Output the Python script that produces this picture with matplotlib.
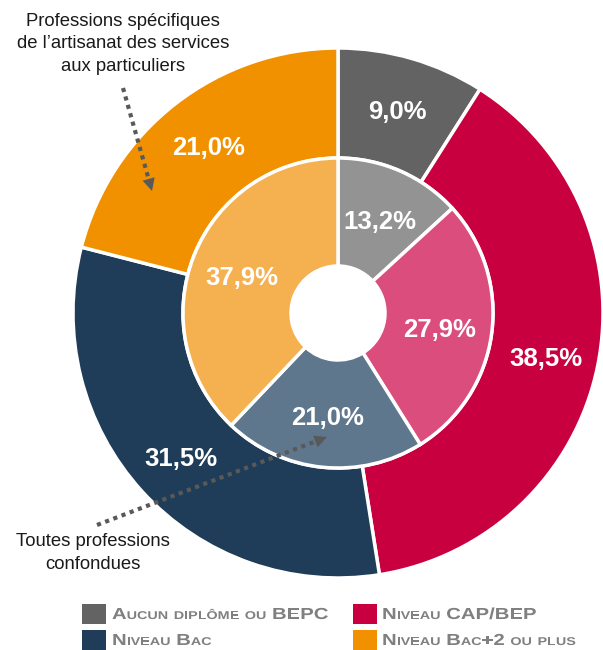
import matplotlib
matplotlib.use('Agg')
import matplotlib.pyplot as plt
from matplotlib.font_manager import FontProperties
from matplotlib.textpath import TextPath
from matplotlib.patches import PathPatch
from matplotlib.transforms import Affine2D
import numpy as np

# ---- data ----
categories = ["Aucun diplôme ou BEPC", "Niveau CAP/BEP", "Niveau Bac", "Niveau Bac+2 ou plus"]
outer_values = [9.0, 38.5, 31.5, 21.0]   # Professions spécifiques de l'artisanat des services aux particuliers
inner_values = [13.2, 27.9, 21.0, 37.9]  # Toutes professions confondues
outer_labels = ["9,0%", "38,5%", "31,5%", "21,0%"]
inner_labels = ["13,2%", "27,9%", "21,0%", "37,9%"]
outer_colors = ['#636363', '#C8003F', '#1F3D58', '#F29100']
inner_colors = ['#939393', '#DB4D7D', '#5E778D', '#F5B04F']
outer_note = "Professions spécifiques\nde l’artisanat des services\naux particuliers"
inner_note = "Toutes professions\nconfondues"

FONT = 'Liberation Sans'
plt.rcParams['font.family'] = [FONT, 'DejaVu Sans']

W, H = 603, 650
fig = plt.figure(figsize=(W / 100, H / 100), dpi=100)
ax = fig.add_axes([0, 0, 1, 1])

cx, cy = 338, H - 313
R_out, R_mid, R_in = 265, 155, 47

w_out, _ = ax.pie(outer_values, colors=outer_colors, radius=R_out, center=(cx, cy),
                  startangle=90, counterclock=False, frame=True,
                  wedgeprops=dict(width=R_out - R_mid, edgecolor='white', linewidth=2.5))
w_in, _ = ax.pie(inner_values, colors=inner_colors, radius=R_mid, center=(cx, cy),
                 startangle=90, counterclock=False, frame=True,
                 wedgeprops=dict(width=R_mid - R_in, edgecolor='white', linewidth=2.5))

ax.set_xlim(0, W)
ax.set_ylim(0, H)
ax.set_aspect('equal', adjustable='box')
ax.axis('off')

def place_labels(wedges, labels, r):
    for w, lab in zip(wedges, labels):
        th = np.deg2rad((w.theta1 + w.theta2) / 2)
        ax.text(cx + r * np.cos(th), cy + r * np.sin(th) - 3, lab, ha='center', va='center',
                color='white', fontsize=18.5, fontweight='bold', family=FONT)

place_labels(w_out, outer_labels, 212)
place_labels(w_in, inner_labels, 103)

# ---- annotations ----
ax.text(123, H - 44, outer_note, ha='center', va='center', fontsize=13.3,
        color='#1a1a1a', linespacing=1.45, family=FONT)
ax.text(93, H - 553, inner_note, ha='center', va='center', fontsize=13.3,
        color='#1a1a1a', linespacing=1.45, family=FONT)

arrow_col = '#595959'

def dotted_arrow(p0, p1):
    x0, y0 = p0[0], H - p0[1]
    x1, y1 = p1[0], H - p1[1]
    d = np.hypot(x1 - x0, y1 - y0)
    ux, uy = (x1 - x0) / d, (y1 - y0) / d
    hl = 13
    ax.plot([x0, x1 - ux * hl], [y0, y1 - uy * hl], color=arrow_col, lw=3.0,
            dashes=(1, 1.1), solid_capstyle='butt', dash_capstyle='butt', zorder=5)
    ax.annotate('', xy=(x1, y1), xytext=(x1 - ux * (hl + 2), y1 - uy * (hl + 2)),
                arrowprops=dict(arrowstyle='-|>,head_length=0.9,head_width=0.45',
                                color=arrow_col, lw=0, shrinkA=0, shrinkB=0),
                zorder=6)

dotted_arrow((123, 88), (152, 191))
dotted_arrow((97, 525), (327, 437))

# ---- legend with small caps (wide bold letters) ----
leg_col = '#808080'
fpb = FontProperties(family=FONT, weight='bold')
BIG, SMALL = 16.0, 11.3   # px
SX = 1.27                 # horizontal widening of the glyphs

def advance(ch, size):
    w1 = TextPath((0, 0), 'H' + ch + 'H', size=size, prop=fpb).get_extents().width
    w0 = TextPath((0, 0), 'HH', size=size, prop=fpb).get_extents().width
    return (w1 - w0) * SX

def smallcaps(x, y, s):
    for ch in s:
        if ch == ' ':
            x += advance(' ', BIG)
            continue
        size = SMALL if ch.islower() else BIG
        c = ch.upper()
        p = TextPath((0, 0), c, size=size, prop=fpb)
        p = Affine2D().scale(SX, 1).translate(x, y).transform_path(p)
        ax.add_patch(PathPatch(p, facecolor=leg_col, lw=0))
        x += advance(c, size)

leg_rows = [619, 645]
sq_x = [82, 353]
txt_x = [112, 382]
for i, cat in enumerate(categories):
    row, col = i // 2, i % 2
    yb = H - leg_rows[row]
    ax.add_patch(plt.Rectangle((sq_x[col], yb - 5), 24, 20, color=outer_colors[i], lw=0))
    smallcaps(txt_x[col], yb, cat)

fig.savefig('out.png', dpi=100)
